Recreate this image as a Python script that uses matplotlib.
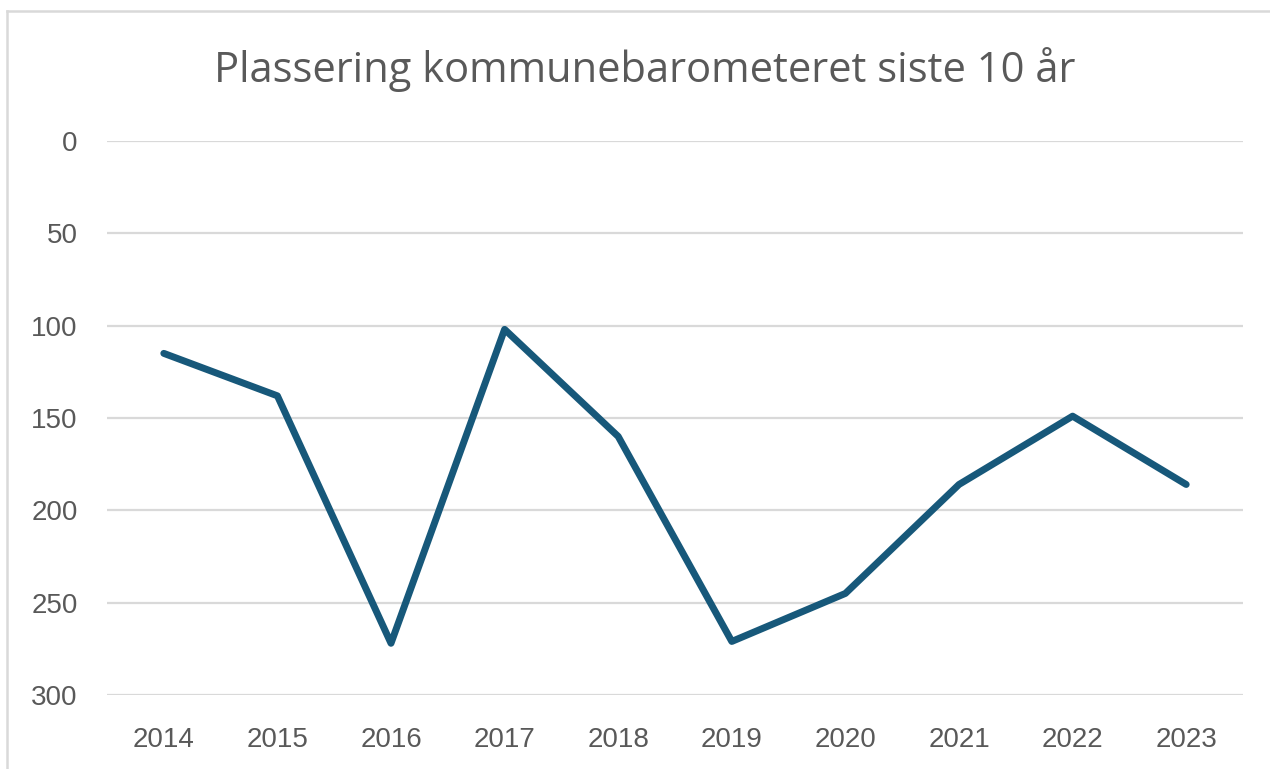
import matplotlib
matplotlib.use("Agg")
import matplotlib.pyplot as plt
from matplotlib.lines import Line2D

years = ["2014", "2015", "2016", "2017", "2018", "2019", "2020", "2021", "2022", "2023"]
plassering = [115, 138, 272, 102, 160, 271, 245, 186, 149, 186]
y_ticks = [0, 50, 100, 150, 200, 250, 300]

W, H = 1270, 769
fig = plt.figure(figsize=(W / 100, H / 100), dpi=100)
fig.patch.set_facecolor("white")

ax = fig.add_axes([107 / W, 1 - 695 / H, (1243 - 107) / W, (695 - 141) / H])
x = list(range(len(years)))
ax.plot(x, plassering, color="#17587A", linewidth=5.0, solid_joinstyle="round",
        solid_capstyle="round", zorder=3)

ax.set_xlim(-0.5, len(years) - 0.5)
ax.set_ylim(300, 0)
ax.set_yticks(y_ticks)
ax.set_xticks(x)
ax.set_xticklabels(years)
ax.grid(axis="y", color="#D9D9D9", linewidth=1.6)
ax.grid(axis="x", visible=False)
for s in ax.spines.values():
    s.set_visible(False)
ax.tick_params(axis="both", length=0, labelsize=20, colors="#595959",
               labelfontfamily="Liberation Sans")
ax.tick_params(axis="y", pad=21)
ax.tick_params(axis="x", pad=23)
ax.set_axisbelow(True)

fig.text(645 / W, 1 - 70 / H, "Plassering kommunebarometeret siste 10 år",
         ha="center", va="center", fontsize=30, color="#595959", family="Open Sans")

# chart area border (top and left visible)
fig.add_artist(Line2D([7 / W, 1.0], [1 - 11 / H, 1 - 11 / H], color="#D9D9D9",
                      linewidth=1.8, transform=fig.transFigure))
fig.add_artist(Line2D([7 / W, 7 / W], [1 - 11 / H, 0.0], color="#D9D9D9",
                      linewidth=1.8, transform=fig.transFigure))

fig.savefig("out.png", dpi=100, facecolor="white")
